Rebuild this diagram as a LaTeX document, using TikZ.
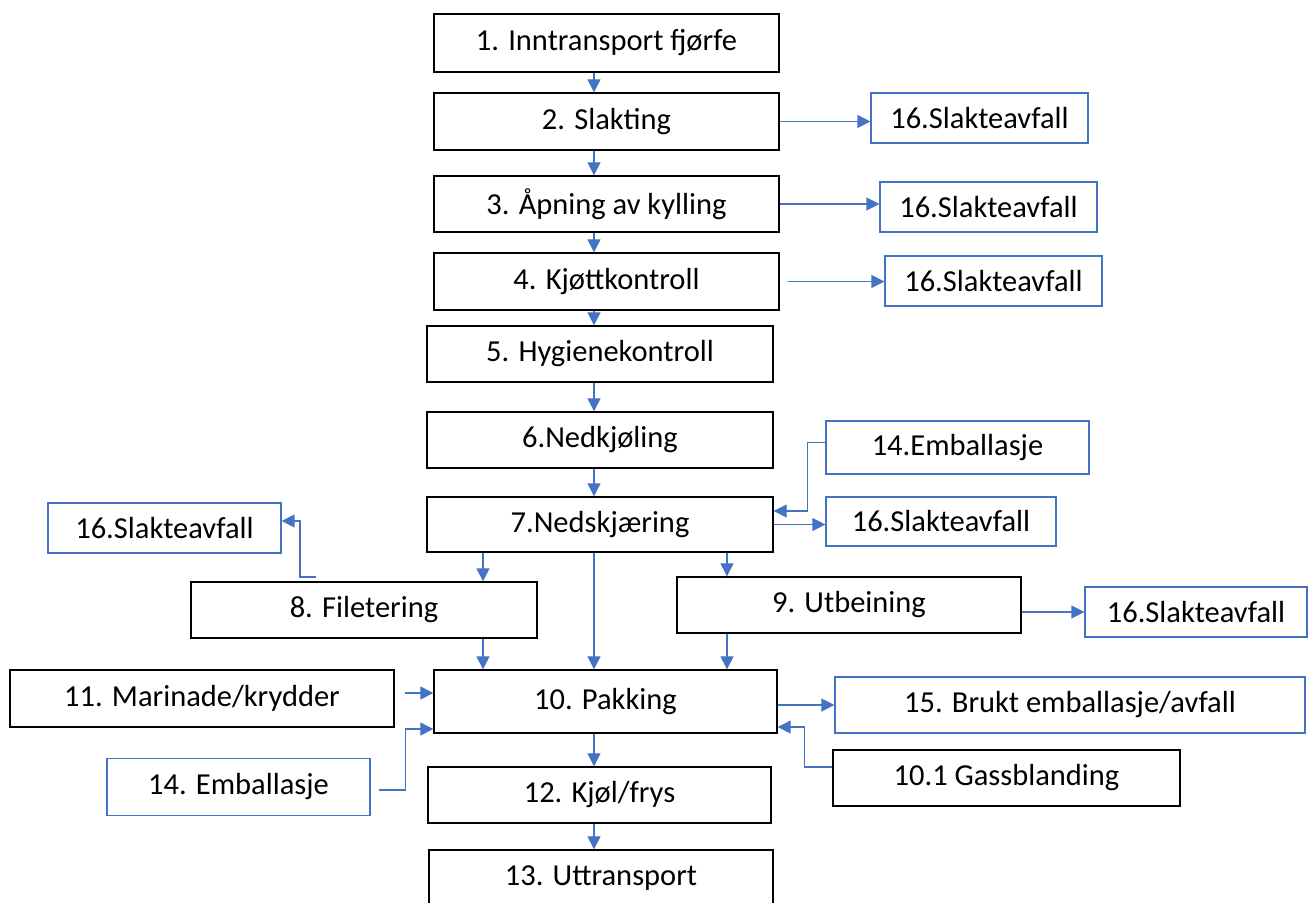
\documentclass[tikz,border=0pt]{standalone}
\usepackage{fontspec}
\setmainfont{Carlito}
\usetikzlibrary{arrows.meta}
\definecolor{flowBlue}{HTML}{4472C4}
\begin{document}
\begin{tikzpicture}[x=1pt,y=-1pt,
      stepBox/.style={draw=black,line width=1.4pt,inner sep=0pt,minimum height=56pt,font=\fontsize{30.5}{36}\selectfont},
      sideBox/.style={draw=flowBlue,line width=1.2pt,inner sep=0pt,minimum height=50pt,font=\fontsize{30.5}{36}\selectfont},
      flowArrow/.style={draw=flowBlue,line width=1.3pt,-{Triangle[length=13pt,width=13pt]}},
    ]

    \clip (0,0) rectangle (1308,902);

    % main line
    \coordinate (spine) at (594,0);
    \coordinate (colA) at (483,0);
    \coordinate (colB) at (727,0);

    \node[stepBox,minimum width=345pt,minimum height=58pt] (inn) at (606.5,43) {1. Inntransport fjørfe};
    \node[stepBox,minimum width=345pt,minimum height=57pt] (slakt) at (606.5,121.5) {2. Slakting};
    \node[stepBox,minimum width=345pt] (apn) at (606.5,204) {3. Åpning av kylling};
    \node[stepBox,minimum width=345pt,minimum height=57pt] (kjott) at (606.5,281.5) {4. Kjøttkontroll};
    \node[stepBox,minimum width=346pt] (hyg) at (600,354) {5. Hygienekontroll};
    \node[stepBox,minimum width=346pt] (nedkj) at (600,440) {6.Nedkjøling};
    \node[stepBox,minimum width=346pt,minimum height=55pt] (nedsk) at (600,524.5) {7.Nedskjæring};
    \node[stepBox,minimum width=346pt] (filet) at (364,610) {8. Filetering};
    \node[stepBox,minimum width=344pt] (utb) at (849,605) {9. Utbeining};
    \node[stepBox,minimum width=343pt,minimum height=63pt] (pakk) at (605.5,701.5) {10. Pakking};
    \node[stepBox,minimum width=384pt,minimum height=57pt] (marin) at (202,698.5) {11. Marinade/krydder};
    \node[stepBox,minimum width=343pt] (kjol) at (599.5,795) {12. Kjøl/frys};
    \node[stepBox,minimum width=344pt] (utt) at (601,878) {13. Uttransport};
    \node[stepBox,minimum width=347pt] (gass) at (1006.5,778) {10.1 Gassblanding};

    % side boxes
    \node[sideBox,minimum width=217pt] (avf2) at (979.5,118) {16.Slakteavfall};
    \node[sideBox,minimum width=217pt] (avf3) at (988.5,207) {16.Slakteavfall};
    \node[sideBox,minimum width=217pt] (avf4) at (993.5,281) {16.Slakteavfall};
    \node[sideBox,minimum width=263pt,minimum height=53pt] (emb7) at (957.5,447.5) {14.Emballasje};
    \node[sideBox,minimum width=230pt,minimum height=49pt] (avf7) at (941,521.5) {16.Slakteavfall};
    \node[sideBox,minimum width=233pt] (avfL) at (164.5,528) {16.Slakteavfall};
    \node[sideBox,minimum width=222pt] (avf9) at (1196,612) {16.Slakteavfall};
    \node[sideBox,minimum width=263pt,minimum height=57pt] (embL) at (238.5,787) {14. Emballasje};
    \node[sideBox,minimum width=470pt,minimum height=56pt] (bruk) at (1070,705) {15. Brukt emballasje/avfall};

    \coordinate (filStart) at (316,577);

    \draw[flowArrow] (inn.south -| spine) -- (slakt.north -| spine);
    \draw[flowArrow] (slakt.south -| spine) -- (apn.north -| spine);
    \draw[flowArrow] (apn.south -| spine) -- (kjott.north -| spine);
    \draw[flowArrow] (kjott.south -| spine) -- (hyg.north -| spine);
    \draw[flowArrow] (hyg.south -| spine) -- (nedkj.north -| spine);
    \draw[flowArrow] (nedkj.south -| spine) -- (nedsk.north -| spine);
    \draw[flowArrow] (nedsk.south -| spine) -- (pakk.north -| spine);
    \draw[flowArrow] (nedsk.south -| colA) -- (filet.north -| colA);
    \draw[flowArrow] (nedsk.south -| colB) -- (utb.north -| colB);
    \draw[flowArrow] (filet.south -| colA) -- (pakk.north -| colA);
    \draw[flowArrow] (utb.south -| colB) -- (pakk.north -| colB);
    \draw[flowArrow] (pakk.south -| spine) -- (kjol.north -| spine);
    \draw[flowArrow] (kjol.south -| spine) -- (utt.north -| spine);

    \draw[flowArrow] (slakt.east) -- (slakt.east -| avf2.west);
    \draw[flowArrow] (apn.east) -- (apn.east -| avf3.west);
    \draw[flowArrow] ([xshift=8pt]kjott.east) -- (kjott.east -| avf4.west);
    \draw[flowArrow] (nedsk.east) -- (nedsk.east -| avf7.west);
    \draw[flowArrow] ([yshift=5pt]emb7.west) -- ++(-18,0) |- ([yshift=13.5pt]nedsk.east);
    \draw[flowArrow] (filStart) -- ++(-16,0) |- ([yshift=7pt]avfL.east);
    \draw[flowArrow] (utb.east |- avf9.west) -- (avf9.west);
    \draw[flowArrow] ([xshift=10pt,yshift=5.5pt]marin.east) -- ([yshift=8.5pt]pakk.west);
    \draw[flowArrow] ([xshift=8pt,yshift=-3pt]embL.east) -- ++(27,0) |- ([yshift=-27.5pt]pakk.west);
    \draw[flowArrow] (pakk.east |- bruk.west) -- (bruk.west);
    \draw[flowArrow] ([yshift=11pt]gass.west) -- ++(-28,0) |- ([yshift=-25.5pt]pakk.east);

\end{tikzpicture}
\end{document}
